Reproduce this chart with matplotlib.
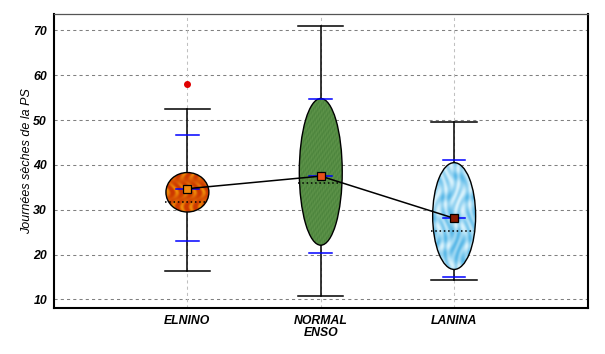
import matplotlib
matplotlib.use("Agg")
import matplotlib.pyplot as plt
import numpy as np
from matplotlib.patches import Ellipse

# values
categories = ["ELNINO", "NORMAL\nENSO", "LANINA"]
whisk_hi = [52.5, 71.0, 49.6]
whisk_lo = [16.4, 10.8, 14.3]
ci_hi = [46.6, 54.8, 41.0]
ci_lo = [23.1, 20.4, 15.1]
ell_hi = [38.3, 54.8, 40.5]
ell_lo = [29.5, 22.1, 16.7]
means = [34.7, 37.5, 28.1]
medians = [31.8, 35.9, 25.3]
outlier_x = [1]
outlier_y = [58.0]

yticks = [10, 20, 30, 40, 50, 60, 70]
mean_colors = ["#f08a10", "#e8501a", "#8a1a00"]

plt.rcParams['font.family'] = ['Liberation Sans', 'DejaVu Sans']

fig = plt.figure(figsize=(6.05, 3.54), dpi=100)
ax = fig.add_axes([0.0893, 0.1308, 0.8818, 0.8288])
ax.set_xlim(0, 4)
ax.set_ylim(8.17, 73.57)

for y in yticks:
    ax.axhline(y, color="#808080", lw=0.75, ls=(0, (3, 3)), zorder=0)
pos = np.arange(1, len(categories) + 1)
for x in pos:
    ax.axvline(x, color="#c0c0c0", lw=0.75, ls=(0, (3, 3)), zorder=0)


# simple textures for the ellipses
def texture(kind):
    yy, xx = np.mgrid[0:1:200j, 0:1:200j]
    if kind == 0:  # fire
        t = np.clip(0.35 + 0.45 * np.sin(xx * 30 + 3 * np.sin(yy * 9)) * np.cos(yy * 7), 0, 1) ** 1.5
        c0 = np.array([0.80, 0.22, 0.0])
        c1 = np.array([1.0, 0.70, 0.05])
    elif kind == 1:  # grass
        t = 0.5 + 0.25 * np.sin(xx * 90 + yy * 40) * np.sin(yy * 110 - xx * 30)
        c0 = np.array([0.22, 0.45, 0.18])
        c1 = np.array([0.45, 0.65, 0.35])
    else:  # clouds
        t = 0.55 + 0.45 * np.sin(xx * 22 + 2 * np.cos(yy * 14)) * np.sin(yy * 20 + 2 * np.sin(xx * 11))
        c0 = np.array([0.30, 0.70, 0.90])
        c1 = np.array([0.85, 0.95, 0.99])
    return c0 + (c1 - c0) * t[..., None]


for i, x in enumerate(pos):
    # whisker
    ax.plot([x, x], [whisk_lo[i], whisk_hi[i]], color="black", lw=1.1, zorder=2)
    for yv in (whisk_lo[i], whisk_hi[i]):
        ax.plot([x - 0.17, x + 0.17], [yv, yv], color="black", lw=1.1, zorder=2)
    for yv in (ci_lo[i], ci_hi[i], means[i]):
        ax.plot([x - 0.085, x + 0.085], [yv, yv], color="#0000ff", lw=1.1, zorder=6)
    # ellipse
    cy = (ell_hi[i] + ell_lo[i]) / 2
    h = ell_hi[i] - ell_lo[i]
    ell = Ellipse((x, cy), 0.322, h, facecolor="none", edgecolor="black", lw=1.0, zorder=5)
    ax.add_patch(ell)
    im = ax.imshow(texture(i), extent=(x - 0.161, x + 0.161, ell_lo[i], ell_hi[i]),
                   aspect="auto", zorder=4, interpolation="bilinear")
    im.set_clip_path(ell)
    # median
    ax.plot([x - 0.17, x + 0.15], [medians[i], medians[i]], color="black", lw=1.1,
            ls=(0, (1, 1.8)), zorder=6)

ax.plot(pos, means, color="black", lw=1.1, zorder=7)
for i, x in enumerate(pos):
    ax.plot(x, means[i], marker="s", ms=6, mfc=mean_colors[i], mec="black", mew=0.9, zorder=8)

ax.plot(outlier_x, outlier_y, "o", ms=4, color="#e00000", zorder=8)

ax.set_xticks(pos)
ax.set_xticklabels(categories, fontsize=8.8, fontweight="bold", fontstyle="italic",
                   linespacing=1.0)
ax.set_yticks(yticks)
ax.set_yticklabels([str(v) for v in yticks], fontsize=8.8, fontweight="bold", fontstyle="italic")
ax.tick_params(axis="both", length=0, pad=5)
ax.set_ylabel("Journées sèches de la PS", fontsize=9, fontstyle="italic")
ax.yaxis.set_label_coords(-0.04, 0.5)

ax.spines["left"].set_linewidth(1.5)
ax.spines["bottom"].set_linewidth(1.5)
ax.spines["right"].set_linewidth(1.5)
ax.spines["top"].set_linewidth(0.9)
ax.spines["top"].set_color("#555555")

fig.savefig("out.png", dpi=100)
